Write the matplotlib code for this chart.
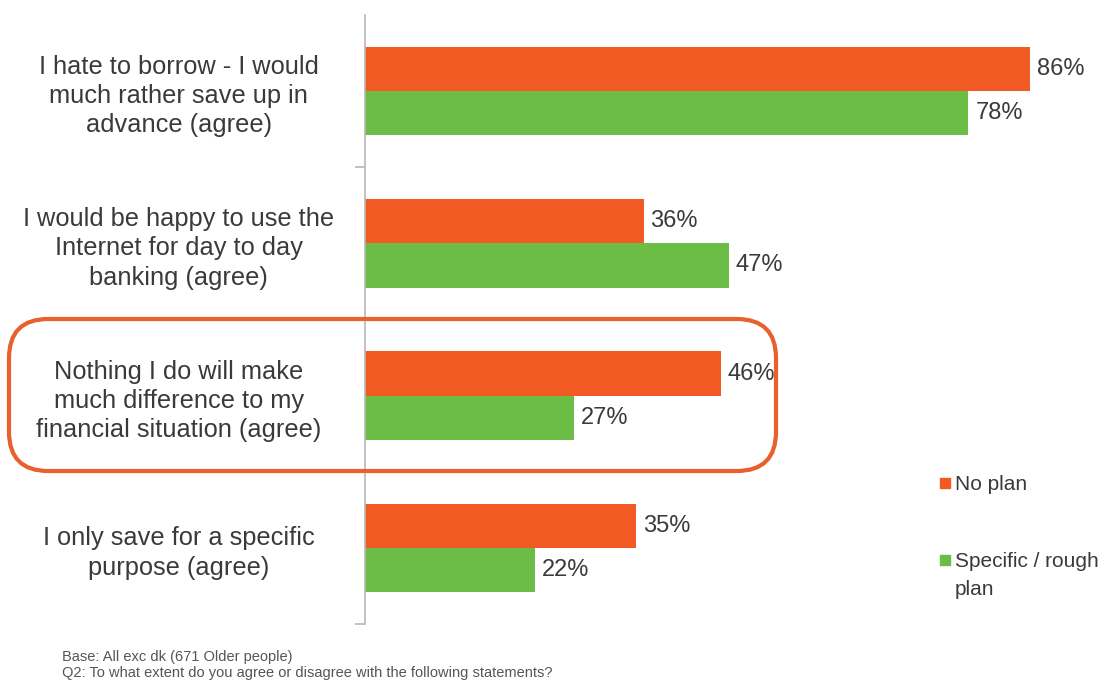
import numpy as np
import matplotlib.pyplot as plt
from matplotlib.patches import FancyBboxPatch, Rectangle

plt.rcParams['font.family'] = ['Liberation Sans', 'DejaVu Sans']

statements = [
    "I hate to borrow - I would\nmuch rather save up in\nadvance (agree)",
    "I would be happy to use the\nInternet for day to day\nbanking (agree)",
    "Nothing I do will make\nmuch difference to my\nfinancial situation (agree)",
    "I only save for a specific\npurpose (agree)",
]
no_plan = [86, 36, 46, 35]
specific_plan = [78, 47, 27, 22]
series_names = ["No plan", "Specific / rough\nplan"]

orange = '#F15A22'
green = '#6CBD45'
text_col = '#3a3a3a'

fig = plt.figure(figsize=(11.2, 6.85), dpi=100)
ax = fig.add_axes([365 / 1120, 1 - 624 / 685, 735 / 1120, 609 / 685])

y = np.arange(len(statements))
h = 0.29
ax.barh(y - h / 2, no_plan, height=h, color=orange)
ax.barh(y + h / 2, specific_plan, height=h, color=green)

for yi, v in zip(y, no_plan):
    ax.text(v + 0.9, yi - h / 2, f"{v}%", va='center', ha='left',
            fontsize=17, color=text_col)
for yi, v in zip(y, specific_plan):
    ax.text(v + 0.9, yi + h / 2, f"{v}%", va='center', ha='left',
            fontsize=17, color=text_col)

ax.set_xlim(0, 95)
ax.set_ylim(len(statements) - 0.5, -0.5)
ax.set_xticks([])
ax.set_yticks(y)
ax.set_yticklabels(statements, ha='center', multialignment='center',
                   fontsize=18.3, color=text_col, linespacing=1.27)
ax.tick_params(axis='y', which='major', length=0, pad=134)
ax.set_yticks(np.arange(0.5, len(statements)), minor=True)
ax.tick_params(axis='y', which='minor', length=7, width=1.2, color='#b8b8b8')

for side in ['top', 'right', 'bottom']:
    ax.spines[side].set_visible(False)
ax.spines['left'].set_color('#b8b8b8')
ax.spines['left'].set_linewidth(1.2)

# highlight box around the third statement
box = FancyBboxPatch((9 / 1120, 1 - 471 / 685), 767 / 1120, 152 / 685,
                     boxstyle="round,pad=0,rounding_size=0.035",
                     transform=fig.transFigure, fill=False,
                     edgecolor='#E8602C', linewidth=3, mutation_aspect=1120 / 685)
fig.add_artist(box)

# legend: small squares with labels to the right
legend_y = [483, 560]
for name, col, ly in zip(series_names, [orange, green], legend_y):
    fig.add_artist(Rectangle((940 / 1120, 1 - (ly + 5) / 685), 10 / 1120, 10 / 685,
                             transform=fig.transFigure, color=col))
    fig.text(955 / 1120, 1 - (ly - 8) / 685, name, fontsize=15, color=text_col,
             va='top', ha='left', linespacing=1.62)

fig.text(62 / 1120, 1 - 657 / 685, "Base: All exc dk (671 Older people)",
         fontsize=10.5, color='#555555', va='center')
fig.text(62 / 1120, 1 - 673 / 685,
         "Q2: To what extent do you agree or disagree with the following statements?",
         fontsize=10.5, color='#555555', va='center')

fig.savefig('out.png', dpi=100)
